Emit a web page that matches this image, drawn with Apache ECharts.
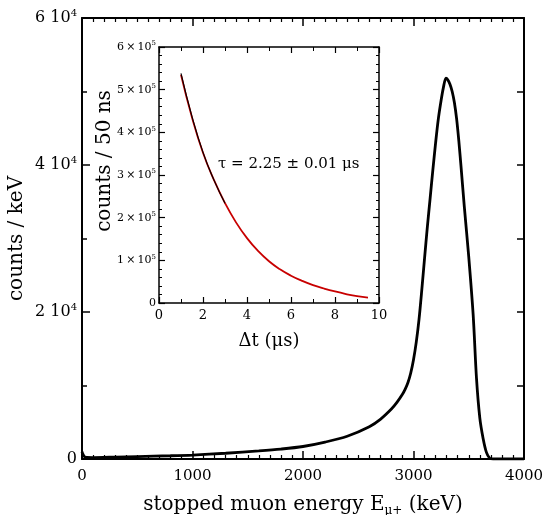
<!DOCTYPE html>
<html><head><meta charset="utf-8">
<script src="https://cdn.jsdelivr.net/npm/echarts@6/dist/echarts.min.js"></script>
<style>html,body{margin:0;padding:0;background:#fff}#c{width:552px;height:515px}</style>
</head><body><div id="c"></div>
<script>
// Main spectrum: stopped muon energy (keV) vs counts/keV
const energy = [0, 10, 30, 100, 300, 500, 800, 1000, 1300, 1600, 1800, 2000, 2200, 2400, 2600, 2700, 2800, 2850, 2900, 2925, 2950, 2975, 3000, 3025, 3050, 3075, 3100, 3125, 3150, 3175, 3200, 3225, 3250, 3270, 3294, 3310, 3330, 3350, 3370, 3390, 3410, 3430, 3460, 3500, 3540, 3570, 3600, 3630, 3660, 3690, 3720, 3800, 4000];
const counts = [1000, 600, 250, 200, 260, 330, 440, 540, 780, 1100, 1350, 1700, 2300, 3100, 4400, 5400, 6800, 7700, 8800, 9500, 10400, 11700, 13500, 15900, 19000, 23000, 27300, 31500, 35400, 39300, 43000, 46300, 48800, 50500, 51800, 51600, 51000, 50000, 48500, 46300, 43300, 39800, 34300, 27500, 19600, 11000, 5600, 2800, 900, 100, 0, 0, 0];
// Inset: decay time spectrum (data, red) and fit (black)
const dt = [1, 1.5, 2, 2.5, 3, 3.5, 4, 4.5, 5, 5.5, 6, 6.5, 7, 7.5, 8, 8.5, 9, 9.5];
const decayCounts = [535000, 435000, 352000, 288000, 234000, 189000, 152000, 122000, 98000, 79000, 64000, 52000, 42000, 34000, 27000, 21000, 16000, 12500];
const fitT = [1, 1.5, 2, 2.5, 3];
const fitV = [538000, 437000, 353000, 288000, 234000];
const mainYTicks = [0, 20000, 40000, 60000];
const insetYTicks = [0, 100000, 200000, 300000, 400000, 500000, 600000];
const annotation = 'τ = 2.25 ± 0.01 μs';

const F = 'DejaVu Serif';
const chart = echarts.init(document.getElementById('c'), null, {renderer: 'canvas'});
const axLine = w => ({show: true, onZero: false, lineStyle: {color: '#000', width: w}});
const mainData = energy.map((e, i) => [e, counts[i]]);
const decayData = dt.map((t, i) => [t, decayCounts[i]]);
const fitData = fitT.map((t, i) => [t, fitV[i]]);

chart.setOption({
  animation: false,
  backgroundColor: '#fff',
  grid: [
    {left: 82, top: 18, right: 28, bottom: 56, containLabel: false, outerBoundsMode: 'none'},
    {left: 159, top: 47, width: 220, height: 256, containLabel: false, outerBoundsMode: 'none'}
  ],
  xAxis: [
    {gridIndex: 0, type: 'value', min: 0, max: 4000, interval: 1000, position: 'bottom',
     axisLine: axLine(2), axisTick: {inside: true, length: 8, lineStyle: {width: 1.5, color: '#000'}},
     minorTick: {show: true, splitNumber: 10, length: 4, lineStyle: {width: 1.2, color: '#000'}},
     splitLine: {show: false},
     axisLabel: {fontFamily: F, fontSize: 15, color: '#000', margin: 10, formatter: v => String(v)},
     name: '{a|stopped muon energy E}{s|μ+}{a| (keV)}', nameLocation: 'middle', nameGap: 34, nameMoveOverlap: false,
     nameTextStyle: {rich: {a: {fontFamily: F, fontSize: 20, color: '#000'}, s: {fontFamily: F, fontSize: 12, color: '#000', padding: [12, 0, 0, 0]}}}},
    {gridIndex: 0, type: 'value', min: 0, max: 4000, interval: 1000, position: 'top',
     axisLine: axLine(2), axisTick: {inside: true, length: 8, lineStyle: {width: 1.5, color: '#000'}},
     minorTick: {show: true, splitNumber: 10, length: 4, lineStyle: {width: 1.2, color: '#000'}},
     splitLine: {show: false}, axisLabel: {show: false}},
    {gridIndex: 1, type: 'value', min: 0, max: 10, interval: 2, position: 'bottom',
     axisLine: axLine(1.5), axisTick: {inside: true, length: 6, lineStyle: {width: 1.2, color: '#000'}},
     minorTick: {show: true, splitNumber: 2, length: 4, lineStyle: {width: 1, color: '#000'}},
     splitLine: {show: false},
     axisLabel: {fontFamily: F, fontSize: 13, color: '#000', margin: 6},
     name: 'Δt (μs)', nameLocation: 'middle', nameGap: 29, nameMoveOverlap: false,
     nameTextStyle: {fontFamily: F, fontSize: 18, color: '#000'}},
    {gridIndex: 1, type: 'value', min: 0, max: 10, interval: 2, position: 'top',
     axisLine: axLine(1.5), axisTick: {inside: true, length: 6, lineStyle: {width: 1.2, color: '#000'}},
     minorTick: {show: true, splitNumber: 2, length: 4, lineStyle: {width: 1, color: '#000'}},
     splitLine: {show: false}, axisLabel: {show: false}}
  ],
  yAxis: [
    {gridIndex: 0, type: 'value', min: 0, max: 60000, interval: 20000, position: 'left',
     axisLine: axLine(2), axisTick: {inside: true, length: 8, lineStyle: {width: 1.5, color: '#000'}},
     minorTick: {show: true, splitNumber: 2, length: 5, lineStyle: {width: 1.5, color: '#000'}},
     splitLine: {show: false},
     axisLabel: {margin: 5, formatter: v => mainYTicks.includes(v) ? (v === 0 ? '{n|0}' : '{n|' + (v / 10000) + ' 10}{s|4}') : '',
       rich: {n: {fontFamily: F, fontSize: 16, color: '#000'}, s: {fontFamily: F, fontSize: 10, color: '#000', padding: [0, 0, 10, 0]}}},
     name: 'counts / keV', nameLocation: 'middle', nameGap: 55, nameRotate: 90, nameMoveOverlap: false,
     nameTextStyle: {fontFamily: F, fontSize: 20, color: '#000'}},
    {gridIndex: 0, type: 'value', min: 0, max: 60000, interval: 10000, position: 'right',
     axisLine: axLine(2), axisTick: {inside: true, length: 7, lineStyle: {width: 1.5, color: '#000'}},
     splitLine: {show: false}, axisLabel: {show: false}},
    {gridIndex: 1, type: 'value', min: 0, max: 600000, interval: 100000, position: 'left',
     axisLine: axLine(1.5), axisTick: {inside: true, length: 6, lineStyle: {width: 1.2, color: '#000'}},
     minorTick: {show: true, splitNumber: 5, length: 3, lineStyle: {width: 1, color: '#000'}},
     splitLine: {show: false},
     axisLabel: {margin: 3, formatter: v => insetYTicks.includes(v) ? (v === 0 ? '{n|0}' : '{n|' + (v / 100000) + '\u2009×\u200910}{s|5}') : '',
       rich: {n: {fontFamily: F, fontSize: 11, color: '#000'}, s: {fontFamily: F, fontSize: 7, color: '#000', padding: [0, 0, 7, 0]}}},
     name: 'counts / 50 ns', nameLocation: 'middle', nameGap: 44, nameRotate: 90, nameMoveOverlap: false,
     nameTextStyle: {fontFamily: F, fontSize: 20, color: '#000', padding: [0, 0, 0, 28]}},
    {gridIndex: 1, type: 'value', min: 0, max: 600000, interval: 100000, position: 'right',
     axisLine: axLine(1.5), axisTick: {inside: true, length: 6, lineStyle: {width: 1.2, color: '#000'}},
     minorTick: {show: true, splitNumber: 5, length: 3, lineStyle: {width: 1, color: '#000'}},
     splitLine: {show: false}, axisLabel: {show: false}}
  ],
  series: [
    {type: 'line', xAxisIndex: 0, yAxisIndex: 0, data: mainData, smooth: 0.3, showSymbol: false,
     lineStyle: {color: '#000', width: 2.8}},
    {type: 'line', xAxisIndex: 2, yAxisIndex: 2, data: decayData, smooth: 0.5, showSymbol: false,
     lineStyle: {color: '#c80000', width: 1.8}, z: 3},
    {type: 'line', xAxisIndex: 2, yAxisIndex: 2, data: fitData, smooth: 0.5, showSymbol: false,
     lineStyle: {color: '#000', width: 1.1}, z: 4}
  ],
  graphic: [
    {type: 'text', left: 218, top: 157, style: {text: annotation, font: '15px "DejaVu Serif"', fill: '#000'}}
  ]
});
</script></body></html>
